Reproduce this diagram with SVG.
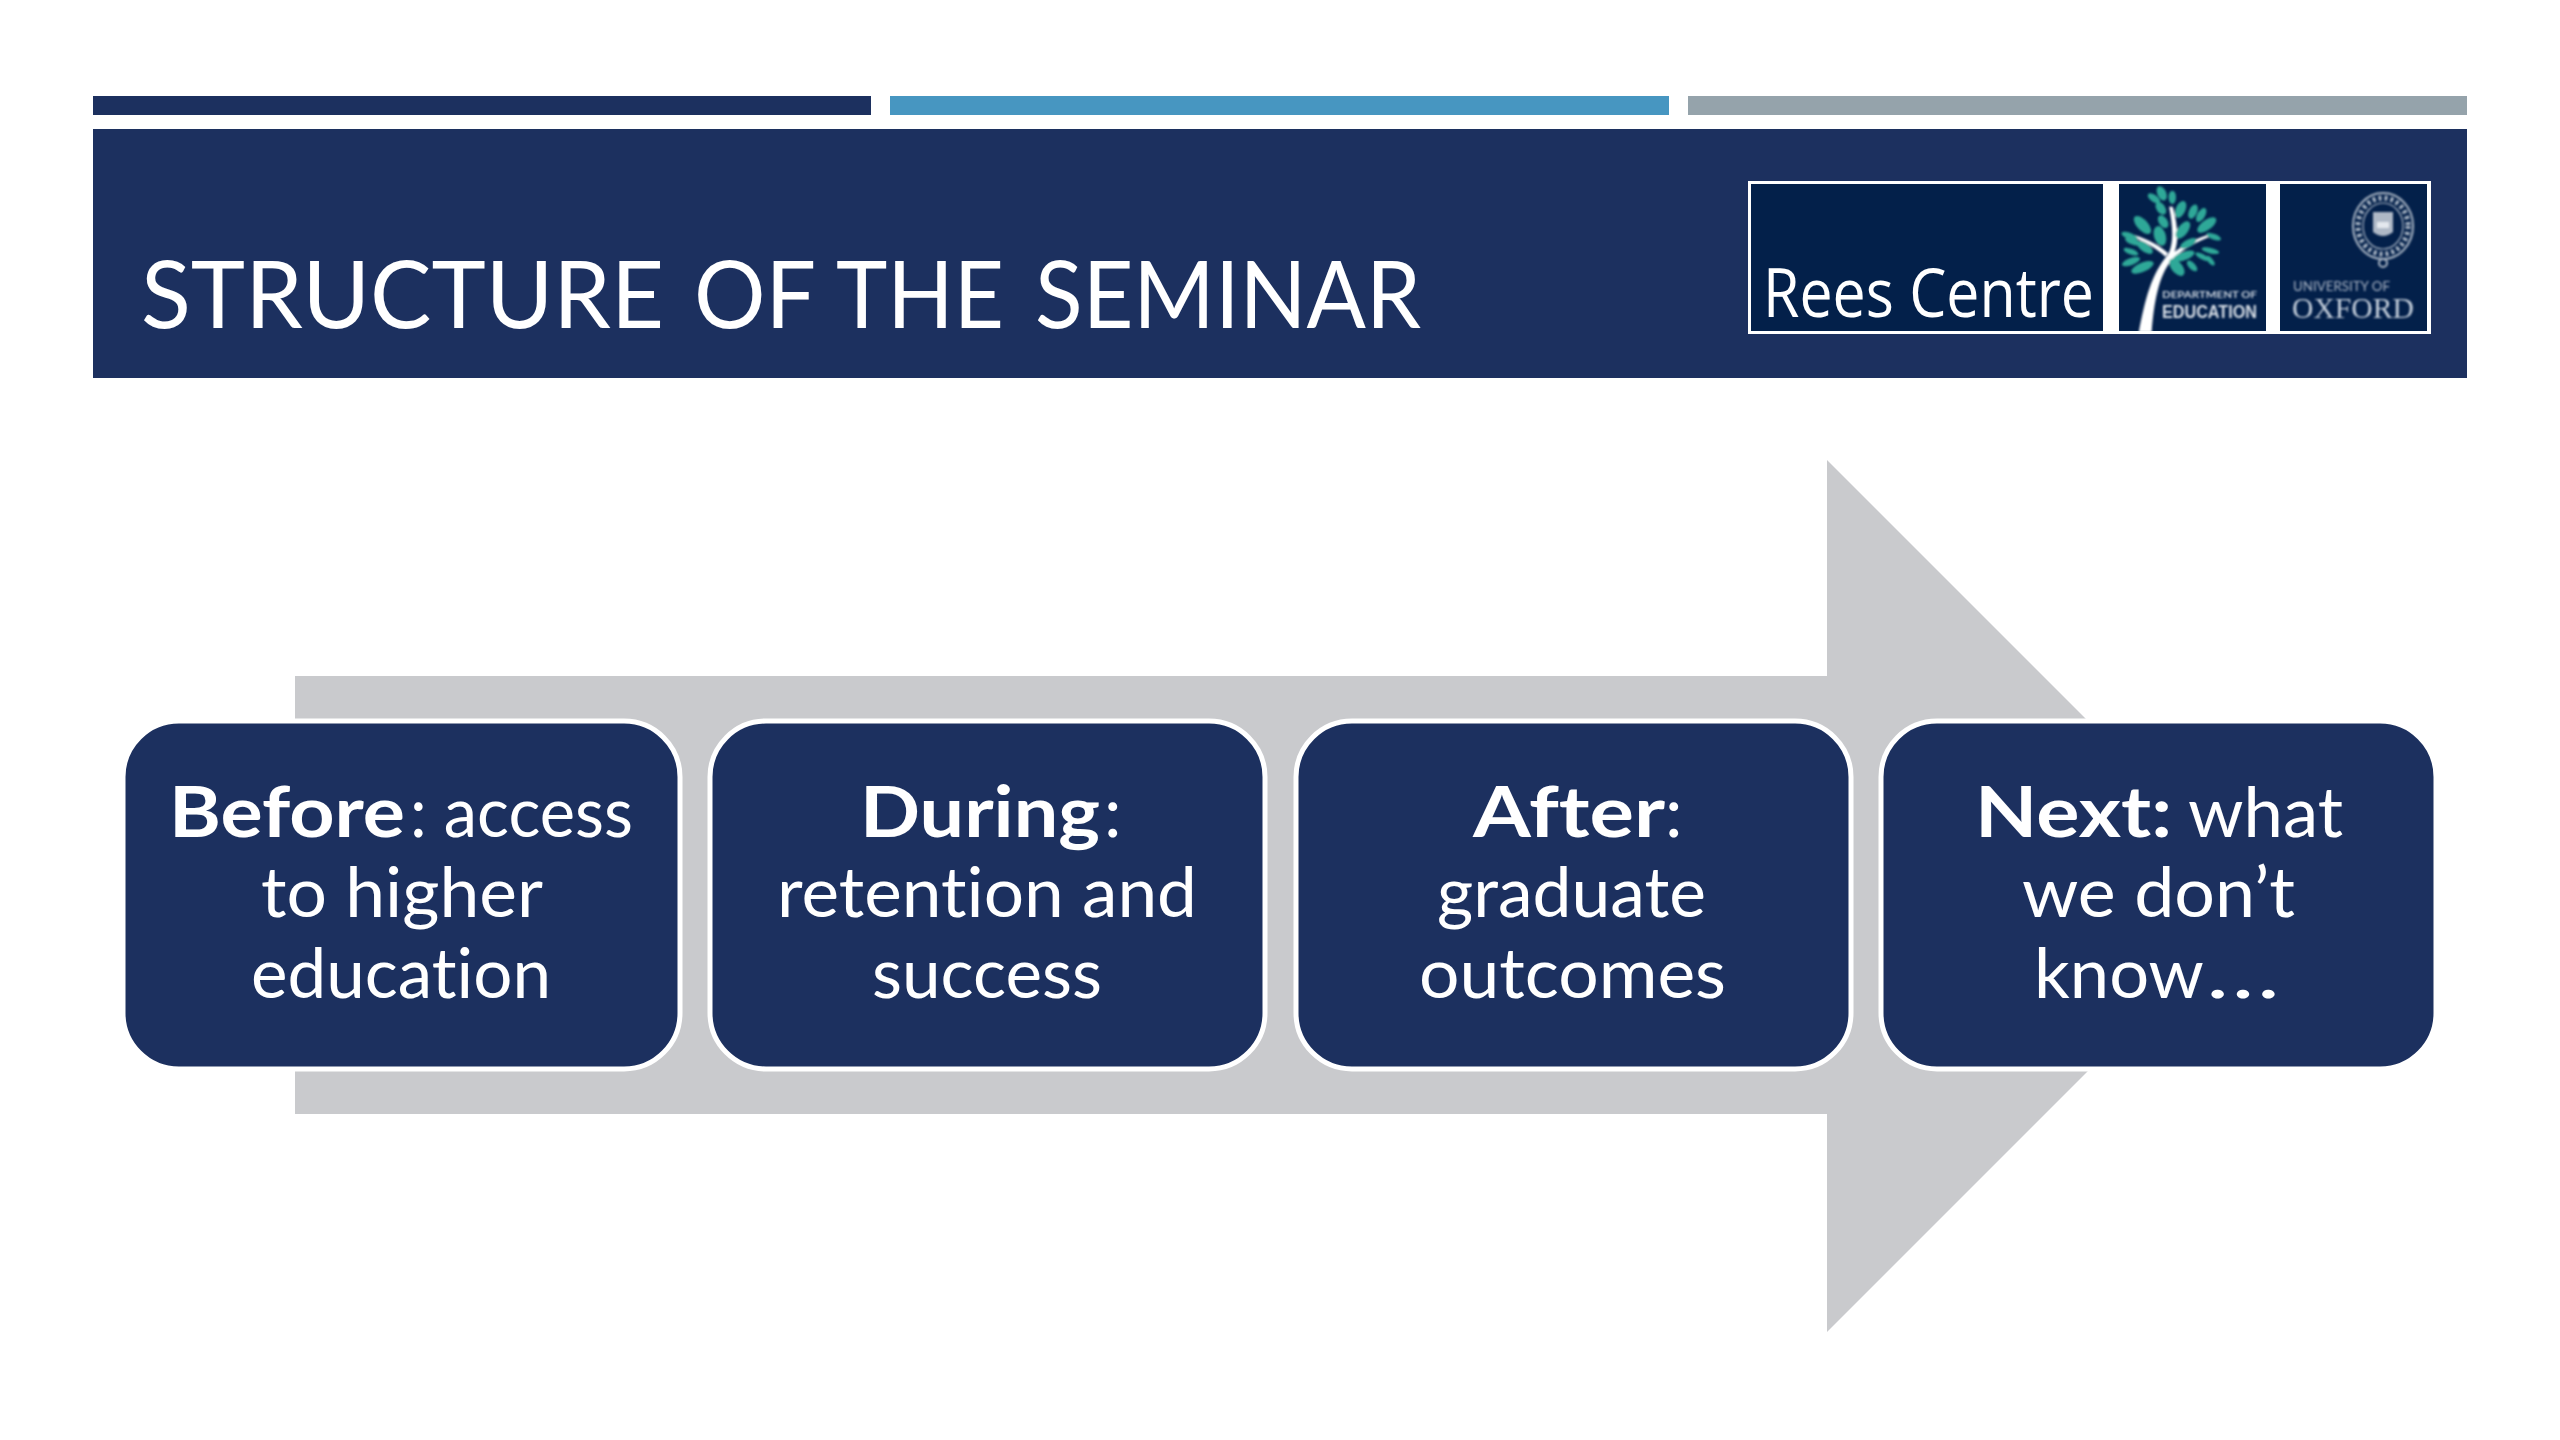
<svg xmlns="http://www.w3.org/2000/svg" width="2560" height="1440" viewBox="0 0 2560 1440">
<defs>
<style>
.navy{fill:#1c305f}
.box{fill:#1c305f;stroke:#fff;stroke-width:5}
.panel{fill:#03204a}
text{fill:#fff;font-family:"Lato","Liberation Sans",sans-serif;font-variant-ligatures:none}
.t{font-size:70px}
.b{font-size:70px;font-weight:700}
.lf{fill:#2fa898}
</style>
<filter id="soft" x="-5%" y="-5%" width="110%" height="110%"><feGaussianBlur stdDeviation="0.8"/></filter>
</defs>
<rect width="2560" height="1440" fill="#fff"/>
<g id="header">
<rect class="navy" x="93" y="96" width="778" height="19"/>
<rect x="890" y="96" width="779" height="19" fill="#4796c1"/>
<rect x="1688" y="96" width="779" height="19" fill="#95a3ab"/>
<rect class="navy" x="93" y="129" width="2374" height="249"/>
<text x="141" y="328" font-size="93"><tspan x="141" textLength="523" lengthAdjust="spacingAndGlyphs">STRUCTURE</tspan> <tspan x="694" textLength="120" lengthAdjust="spacingAndGlyphs">OF</tspan> <tspan x="836" textLength="168" lengthAdjust="spacingAndGlyphs">THE</tspan> <tspan x="1035" textLength="386" lengthAdjust="spacingAndGlyphs">SEMINAR</tspan></text>
</g>
<g id="logo">
<rect x="1748" y="181" width="683" height="153" fill="#fff"/>
<rect class="panel" x="1751" y="184" width="352" height="147"/>
<rect class="panel" x="2119" y="184" width="147" height="147"/>
<rect class="panel" x="2280" y="184" width="147" height="147"/>
<text x="1763" y="317" font-size="68" style="font-family:'Open Sans',sans-serif" textLength="331" lengthAdjust="spacingAndGlyphs">Rees Centre</text>
<g filter="url(#soft)">
<g transform="translate(1720 160) scale(.4592 .3333)">
<path d="M912 517C925 420 940 340 975 285C990 250 985 190 978 140L986 140C996 190 1000 240 990 275C1015 250 1040 235 1062 225L1064 232C1040 245 1010 265 985 298C955 345 945 430 940 517Z" fill="#fff"/>
<path d="M970 290C950 265 925 245 900 232L904 226C935 240 958 258 976 280Z" fill="#fff"/>
<g class="lf">
<ellipse cx="962" cy="100" rx="10" ry="22" transform="rotate(-15 962 100)"/>
<ellipse cx="985" cy="112" rx="8" ry="20"/>
<ellipse cx="945" cy="115" rx="9" ry="18" transform="rotate(-40 945 115)"/>
<ellipse cx="960" cy="145" rx="10" ry="20" transform="rotate(-20 960 145)"/>
<ellipse cx="1003" cy="148" rx="11" ry="26" transform="rotate(15 1003 148)"/>
<ellipse cx="1030" cy="155" rx="9" ry="22" transform="rotate(15 1030 155)"/>
<ellipse cx="1048" cy="165" rx="9" ry="22" transform="rotate(20 1048 165)"/>
<ellipse cx="920" cy="195" rx="13" ry="30" transform="rotate(-30 920 195)"/>
<ellipse cx="965" cy="185" rx="10" ry="20" transform="rotate(-20 965 185)"/>
<ellipse cx="1060" cy="195" rx="13" ry="28" transform="rotate(40 1060 195)"/>
<ellipse cx="1008" cy="210" rx="12" ry="28" transform="rotate(25 1008 210)"/>
<ellipse cx="958" cy="228" rx="13" ry="30" transform="rotate(-10 958 228)"/>
<ellipse cx="892" cy="228" rx="9" ry="20" transform="rotate(-60 892 228)"/>
<ellipse cx="1075" cy="230" rx="8" ry="18" transform="rotate(-60 1075 230)"/>
<ellipse cx="900" cy="245" rx="9" ry="20" transform="rotate(-60 900 245)"/>
<ellipse cx="925" cy="262" rx="11" ry="24" transform="rotate(-40 925 262)"/>
<ellipse cx="895" cy="275" rx="8" ry="18" transform="rotate(-60 895 275)"/>
<ellipse cx="1020" cy="250" rx="10" ry="22" transform="rotate(50 1020 250)"/>
<ellipse cx="1068" cy="272" rx="8" ry="20" transform="rotate(-70 1068 272)"/>
<ellipse cx="1010" cy="288" rx="12" ry="26" transform="rotate(60 1010 288)"/>
<ellipse cx="1050" cy="290" rx="7" ry="18" transform="rotate(-50 1050 290)"/>
<ellipse cx="895" cy="305" rx="10" ry="22" transform="rotate(60 895 305)"/>
<ellipse cx="920" cy="322" rx="13" ry="28" transform="rotate(55 920 322)"/>
<ellipse cx="995" cy="322" rx="13" ry="28" transform="rotate(-25 995 322)"/>
<ellipse cx="1028" cy="318" rx="8" ry="18" transform="rotate(-30 1028 318)"/>
<ellipse cx="1068" cy="302" rx="6" ry="16" transform="rotate(-30 1068 302)"/>
</g>
</g>
<g fill="none" stroke="#a9b5c4">
<ellipse cx="2383" cy="226" rx="30" ry="33" stroke-width="2"/>
<ellipse cx="2383" cy="226" rx="25" ry="28" stroke-width="5" stroke-dasharray="3 3"/>
<ellipse cx="2383" cy="226" rx="20" ry="23" stroke-width="1.2"/>
<circle cx="2383" cy="263" r="4" stroke-width="2"/>
</g>
<path d="M2373 212h20v20q-10 8-20 0Z" fill="#aeb8c6"/>
<path d="M2377 222h12v6h-12Z" fill="#e4e8ee"/>
<text x="2162" y="298" font-size="10" font-weight="700" style="fill:#c9d2dd" textLength="95" lengthAdjust="spacingAndGlyphs">DEPARTMENT OF</text>
<text x="2162" y="318" font-size="18" font-weight="700" style="font-family:'Liberation Sans',sans-serif;fill:#d8dfe7" textLength="95" lengthAdjust="spacingAndGlyphs">EDUCATION</text>
<text x="2293" y="291" font-size="13" style="fill:#a9b4c4" textLength="97" lengthAdjust="spacingAndGlyphs">UNIVERSITY OF</text>
<text x="2292" y="318" font-size="29" style="font-family:'Liberation Serif',serif;fill:#c5cfdb" textLength="122" lengthAdjust="spacingAndGlyphs">OXFORD</text>
</g>
</g>
<g id="connectors">
<path id="flow-arrow" d="M295 676H1827V460L2263 896L1827 1332V1114H295Z" fill="#c9cacd"/>
</g>
<g id="node-before">
<rect class="box" x="123" y="721" width="557" height="348" rx="56"/>
<text class="b" x="169" y="837" textLength="236" lengthAdjust="spacingAndGlyphs">Before</text>
<text class="t" x="410" y="837" textLength="223" lengthAdjust="spacingAndGlyphs">: access</text>
<text class="t" x="261" y="917" textLength="282" lengthAdjust="spacingAndGlyphs">to higher</text>
<text class="t" x="251" y="998" textLength="300" lengthAdjust="spacingAndGlyphs">education</text>
</g>
<g id="node-during">
<rect class="box" x="710" y="721" width="555" height="348" rx="56"/>
<text class="b" x="860" y="837" textLength="240" lengthAdjust="spacingAndGlyphs">During</text>
<text class="t" x="1104" y="837">:</text>
<text class="t" x="777" y="917" textLength="420" lengthAdjust="spacingAndGlyphs">retention and</text>
<text class="t" x="872" y="998" textLength="230" lengthAdjust="spacingAndGlyphs">success</text>
</g>
<g id="node-after">
<rect class="box" x="1296" y="721" width="555" height="348" rx="56"/>
<text class="b" x="1473" y="837" textLength="192" lengthAdjust="spacingAndGlyphs">After</text>
<text class="t" x="1665" y="837">:</text>
<text class="t" x="1437" y="917" textLength="269" lengthAdjust="spacingAndGlyphs">graduate</text>
<text class="t" x="1419" y="998" textLength="307" lengthAdjust="spacingAndGlyphs">outcomes</text>
</g>
<g id="node-next">
<rect class="box" x="1881" y="721" width="555" height="348" rx="56"/>
<text class="b" x="1975" y="837" textLength="197" lengthAdjust="spacingAndGlyphs">Next:</text>
<text class="t" x="2188" y="837" textLength="155" lengthAdjust="spacingAndGlyphs">what</text>
<text class="t" x="2022" y="917" textLength="273" lengthAdjust="spacingAndGlyphs">we don’t</text>
<text class="t" x="2034" y="998"><tspan textLength="170" lengthAdjust="spacingAndGlyphs">know</tspan><tspan x="2206" textLength="74" lengthAdjust="spacingAndGlyphs">…</tspan></text>
</g>
</svg>
